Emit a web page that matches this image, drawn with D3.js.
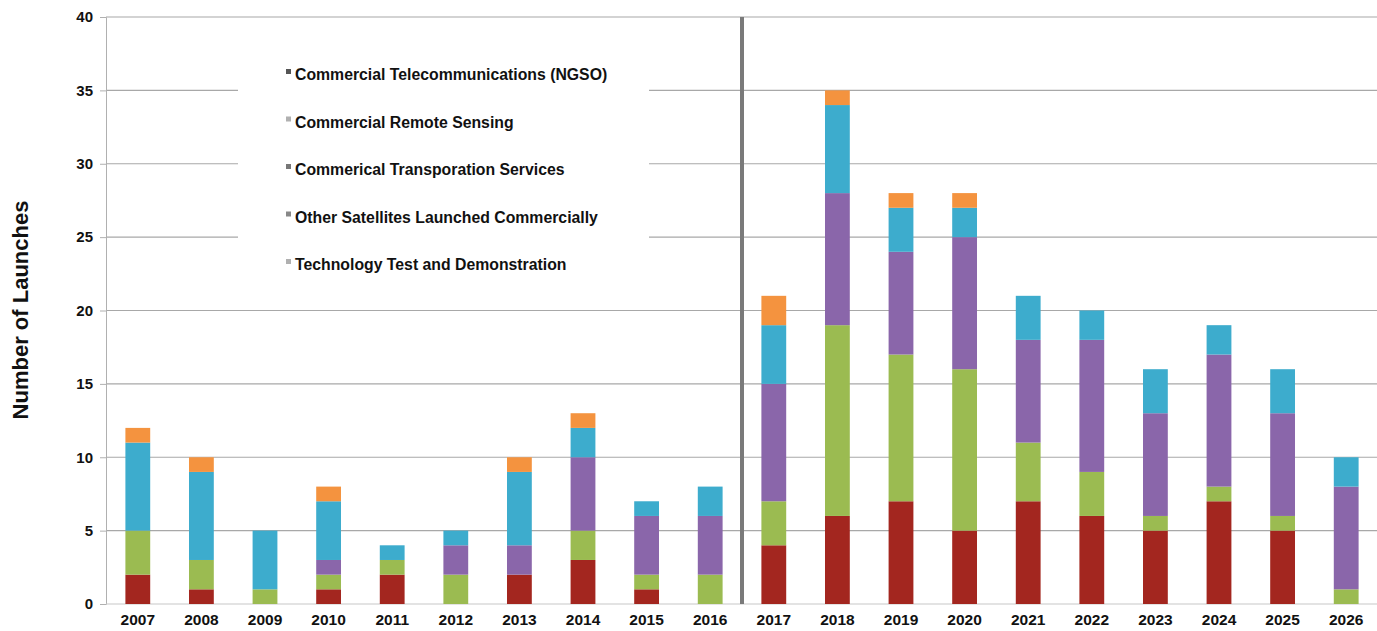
<!DOCTYPE html>
<html><head><meta charset="utf-8">
<script src="https://cdn.jsdelivr.net/npm/d3@7"></script>
<style>
html,body{margin:0;padding:0;background:#fff;}
svg{display:block;font-family:"Liberation Sans",Arial,Helvetica,sans-serif;}
</style></head>
<body><svg id="chart" width="1377" height="631"></svg>
<script>
const years = ["2007","2008","2009","2010","2011","2012","2013","2014","2015","2016","2017","2018","2019","2020","2021","2022","2023","2024","2025","2026"];
const seriesNames = ["Commercial Telecommunications (NGSO)","Commercial Remote Sensing","Commerical Transporation Services","Other Satellites Launched Commercially","Technology Test and Demonstration"];
const telecomNGSO   = [2,1,0,1,2,0,2,3,1,0, 4,6,7,5,7,6,5,7,5,0];
const remoteSensing = [3,2,1,1,1,2,0,2,1,2, 3,13,10,11,4,3,1,1,1,1];
const transportation= [0,0,0,1,0,2,2,5,4,4, 8,9,7,9,7,9,7,9,7,7];
const otherSats     = [6,6,4,4,1,1,5,2,1,2, 4,6,3,2,3,2,3,2,3,2];
const techTest      = [1,1,0,1,0,0,1,1,0,0, 2,1,1,1,0,0,0,0,0,0];
const yTicks = [0,5,10,15,20,25,30,35,40];
const colors = ["#a3261f","#9bbb51","#8a66aa","#3daccd","#f4933f"];
const legendMarkers = ["#555","#b0b0b0","#777","#888","#b0b0b0"];

const svg = d3.select("#chart");
const x = d3.scaleBand().domain(years).range([106,1378]).paddingInner(0.61).paddingOuter(0.305);
const y = d3.scaleLinear().domain([0,40]).range([604,17]);

// grid
svg.append("g").selectAll("line").data(yTicks.slice(1)).join("line")
  .attr("x1",106).attr("x2",1377).attr("y1",d=>y(d)).attr("y2",d=>y(d))
  .attr("stroke","#a8a8a8").attr("stroke-width",1.2);

// y axis
const yAxis = svg.append("g").attr("transform","translate(106,0)")
  .call(d3.axisLeft(y).tickValues(yTicks).tickSize(6).tickPadding(7));
yAxis.select(".domain").attr("stroke","#b0b0b0");
yAxis.selectAll(".tick line").attr("stroke","#b0b0b0");
yAxis.selectAll("text").attr("font-size",15).attr("font-weight","bold").attr("fill","#111")
  .attr("font-family","'Liberation Sans',Arial,sans-serif");

// baseline
svg.append("line").attr("x1",106).attr("x2",1377).attr("y1",y(0)).attr("y2",y(0))
  .attr("stroke","#c8c8c8").attr("stroke-width",1.2);

// x axis labels
const xAxis = svg.append("g").attr("transform",`translate(0,${y(0)})`)
  .call(d3.axisBottom(x).tickSize(0).tickPadding(10));
xAxis.select(".domain").remove();
xAxis.selectAll("text").attr("font-size",15.5).attr("font-weight","bold").attr("fill","#111")
  .attr("font-family","'Liberation Sans',Arial,sans-serif");

// legend background
svg.append("rect").attr("x",238).attr("y",50).attr("width",411).attr("height",240).attr("fill","#fff");

// stacked bars
const rows = years.map((yr,i)=>({year:yr, s0:telecomNGSO[i], s1:remoteSensing[i], s2:transportation[i], s3:otherSats[i], s4:techTest[i]}));
const stack = d3.stack().keys(["s0","s1","s2","s3","s4"]);
const layers = stack(rows);
svg.append("g").selectAll("g").data(layers).join("g")
  .attr("fill",(d,i)=>colors[i])
  .selectAll("rect").data(d=>d.filter(p=>p[1]>p[0])).join("rect")
  .attr("x",d=>x(d.data.year)).attr("width",x.bandwidth())
  .attr("y",d=>y(d[1])).attr("height",d=>y(d[0])-y(d[1]));

// divider between actual and forecast
const divX = (x("2016")+x.bandwidth()+x("2017"))/2;
svg.append("line").attr("x1",divX).attr("x2",divX).attr("y1",y(40)).attr("y2",y(0))
  .attr("stroke","#7a7a7a").attr("stroke-width",4);

// legend
const lg = svg.append("g");
seriesNames.forEach((name,i)=>{
  const cy = 75 + i*47.5;
  lg.append("rect").attr("x",286).attr("y",cy-6).attr("width",5).attr("height",5).attr("fill",legendMarkers[i]);
  lg.append("text").attr("x",295).attr("y",cy+5).attr("font-size",15.8).attr("font-weight","bold")
    .attr("fill","#111").text(name);
});

// y axis title
svg.append("text").attr("transform","translate(28,310) rotate(-90)").attr("text-anchor","middle")
  .attr("font-size",22).attr("font-weight","bold").attr("fill","#111").text("Number of Launches");
</script></body></html>
